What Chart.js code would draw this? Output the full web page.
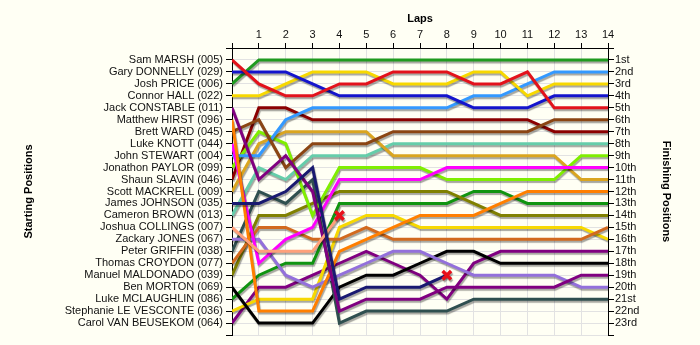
<!DOCTYPE html>
<html>
<head>
<meta charset="utf-8">
<title>Lap Chart</title>
<script src="https://cdn.jsdelivr.net/npm/chart.js@4/dist/chart.umd.min.js"></script>
<style>
    body { margin: 0; background: #fffff4; }
    #wrap { width: 700px; height: 345px; position: relative; }
</style>
</head>
<body>
<div id="wrap"><canvas id="lapChart"></canvas></div>
<script>
// ===================================
// RACE DATA
// ===================================

const laps = [0, 1, 2, 3, 4, 5, 6, 7, 8, 9, 10, 11, 12, 13, 14];

// grid order (starting position = index + 1)
const riderNames = [
    'Sam MARSH (005)', 'Gary DONNELLY (029)', 'Josh PRICE (006)', 'Connor HALL (022)',
    'Jack CONSTABLE (011)', 'Matthew HIRST (096)', 'Brett WARD (045)', 'Luke KNOTT (044)',
    'John STEWART (004)', 'Jonathon PAYLOR (099)', 'Shaun SLAVIN (046)', 'Scott MACKRELL (009)',
    'James JOHNSON (035)', 'Cameron BROWN (013)', 'Joshua COLLINGS (007)', 'Zackary JONES (067)',
    'Peter GRIFFIN (038)', 'Thomas CROYDON (077)', 'Manuel MALDONADO (039)', 'Ben MORTON (069)',
    'Luke MCLAUGHLIN (086)', 'Stephanie LE VESCONTE (036)', 'Carol VAN BEUSEKOM (064)'
];

const finishLabels = [
    '1st', '2nd', '3rd', '4th', '5th', '6th', '7th', '8th', '9th', '10th', '11th', '12th',
    '13th', '14th', '15th', '16th', '17th', '18th', '19th', '20th', '21st', '22nd', '23rd'
];

// position at the end of each lap (lap 0 = grid)
const samMarsh       = [1, 3, 4, 4, 3, 3, 2, 2, 2, 3, 3, 2, 5, 5, 5];
const garyDonnelly   = [2, 2, 2, 3, 4, 4, 4, 4, 4, 5, 5, 5, 4, 4, 4];
const joshPrice      = [3, 1, 1, 1, 1, 1, 1, 1, 1, 1, 1, 1, 1, 1, 1];
const connorHall     = [4, 4, 3, 2, 2, 2, 3, 3, 3, 2, 2, 4, 3, 3, 3];
const jackConstable  = [5, 11, 9, 12, 22, 21, 21, 21, 20, 20, 20, 20, 20, 19, 19];
const matthewHirst   = [6, 22, 22, 22, 17, 16, 15, 14, 14, 14, 13, 12, 12, 12, 12];
const brettWard      = [7, 6, 10, 8, 8, 8, 7, 7, 7, 7, 7, 7, 6, 6, 6];
const lukeKnott      = [8, 18, 16, 15, 11, 11, 11, 11, 10, 10, 10, 10, 10, 10, 10];
const johnStewart    = [9, 9, 6, 5, 5, 5, 5, 5, 5, 4, 4, 3, 2, 2, 2];
const jonathonPaylor = [10, 7, 8, 14, 10, 10, 10, 10, 11, 11, 11, 11, 11, 9, 9];
const shaunSlavin    = [11, 5, 5, 6, 6, 6, 6, 6, 6, 6, 6, 6, 7, 7, 7];
const scottMackrell  = [12, 8, 7, 7, 7, 7, 9, 9, 9, 9, 9, 9, 9, 11, 11];
const jamesJohnson   = [13, 13, 12, 10, 21, 20, 20, 20, 19];
const cameronBrown   = [14, 10, 11, 9, 9, 9, 8, 8, 8, 8, 8, 8, 8, 8, 8];
const joshuaCollings = [15, 17, 17, 17, 14];
const zackaryJones   = [16, 16, 19, 20, 19, 18, 17, 17, 18, 19, 19, 19, 19, 20, 20];
const peterGriffin   = [17, 12, 13, 11, 23, 22, 22, 22, 22, 21, 21, 21, 21, 21, 21];
const thomasCroydon  = [18, 15, 15, 16, 16, 15, 16, 16, 16, 16, 16, 16, 16, 16, 15];
const manuelMaldonado = [19, 14, 14, 13, 12, 12, 12, 12, 12, 13, 14, 14, 14, 14, 14];
const benMorton      = [20, 23, 23, 23, 20, 19, 19, 18, 17, 17, 18, 18, 18, 18, 18];
const lukeMclaughlin = [21, 19, 18, 18, 13, 13, 13, 13, 13, 12, 12, 13, 13, 13, 13];
const stephanieLeVesconte = [22, 21, 21, 21, 15, 14, 14, 15, 15, 15, 15, 15, 15, 15, 16];
const carolVanBeusekom = [23, 20, 20, 19, 18, 17, 18, 19, 21, 18, 17, 17, 17, 17, 17];

const riderLaps = [
    samMarsh, garyDonnelly, joshPrice, connorHall, jackConstable, matthewHirst,
    brettWard, lukeKnott, johnStewart, jonathonPaylor, shaunSlavin, scottMackrell,
    jamesJohnson, cameronBrown, joshuaCollings, zackaryJones, peterGriffin,
    thomasCroydon, manuelMaldonado, benMorton, lukeMclaughlin, stephanieLeVesconte,
    carolVanBeusekom
];

// riders who went down (last lap entry gets a cross)
const crashed = ['James JOHNSON (035)', 'Joshua COLLINGS (007)'];

const riderColors = [
    '#e3121b', '#1414cc', '#1f9a1f', '#f7d800', '#800080', '#ff7f00',
    '#8b4513', '#ff00ff', '#3399ff', '#7fee00', '#8b0000', '#daa520',
    '#191970', '#66cdaa', '#ffa07a', '#9370db', '#2f4f4f',
    '#d2691e', '#808000', '#000000', '#109410', '#f7d800',
    '#800080'
];

// ===================================
// CHART
// ===================================

const FONT = 'Liberation Sans, Arial, sans-serif';
const GRID = '#e2e2e2';

// soft grey drop shadow under every line
const lineShadow = {
    id: 'lineShadow',
    beforeDatasetsDraw(chart) {
        const c = chart.ctx;
        c.save();
        c.shadowColor = 'rgba(0, 0, 0, 0.35)';
        c.shadowOffsetX = 1;
        c.shadowOffsetY = 2;
        c.shadowBlur = 1;
    },
    afterDatasetsDraw(chart) {
        chart.ctx.restore();
    }
};

function buildDatasets() {
    return riderLaps.map((positions, i) => {
        const down = crashed.includes(riderNames[i]);
        const last = positions.length - 1;
        return {
            label: riderNames[i],
            data: positions.map((pos, lap) => ({ x: laps[lap], y: pos })),
            borderColor: riderColors[i],
            backgroundColor: riderColors[i],
            borderWidth: 3,
            tension: 0,
            fill: false,
            order: down ? -1 : 0,
            pointStyle: 'crossRot',
            pointRadius: positions.map((p, k) => (down && k === last ? 6 : 0)),
            pointBorderColor: '#e8101a',
            pointBorderWidth: 3.5,
            pointHoverRadius: 0
        };
    });
}

function positionAxis(side, labels, title, titleGap, width) {
    return {
        type: 'linear',
        position: side,
        reverse: true,
        min: 0,
        max: 24,
        afterFit: (scale) => { scale.width = width; },
        ticks: {
            stepSize: 1,
            autoSkip: false,
            padding: side === 'left' ? 3 : 1,
            color: '#111',
            font: { family: FONT, size: 11 },
            callback: (v) => labels[v - 1] || ''
        },
        grid: {
            color: GRID,
            tickColor: '#000',
            tickLength: 6,
            drawOnChartArea: side === 'left'
        },
        border: { color: '#000', width: 1 },
        title: {
            display: true,
            text: title,
            color: '#000',
            font: { family: FONT, size: 11, weight: 'bold' },
            padding: { top: titleGap, bottom: 0 }
        }
    };
}

function initLapChart() {
    const ctx = document.getElementById('lapChart').getContext('2d');

    new Chart(ctx, {
        type: 'line',
        data: { datasets: buildDatasets() },
        plugins: [lineShadow],
        options: {
            responsive: true,
            maintainAspectRatio: false,
            animation: false,
            devicePixelRatio: 1,
            layout: { padding: { left: 0, right: 0, top: 0, bottom: 10 } },
            plugins: {
                legend: { display: false },
                tooltip: { enabled: false }
            },
            scales: {
                x: {
                    type: 'linear',
                    position: 'top',
                    min: 0,
                    max: 14,
                    afterFit: (scale) => { scale.height = 48; },
                    ticks: {
                        stepSize: 1,
                        autoSkip: false,
                        maxRotation: 0,
                        padding: 1,
                        color: '#111',
                        font: { family: FONT, size: 11 },
                        callback: (v) => (v === 0 ? '' : v)
                    },
                    grid: { color: GRID, tickColor: '#000', tickLength: 5 },
                    border: { color: '#000', width: 1 },
                    title: {
                        display: true,
                        text: 'Laps',
                        color: '#000',
                        font: { family: FONT, size: 11, weight: 'bold' },
                        padding: { top: 12, bottom: 0 }
                    }
                },
                y: positionAxis('left', riderNames, 'Starting Positions', 22, 232),
                y2: positionAxis('right', finishLabels, 'Finishing Positions', 27, 92)
            }
        }
    });
}

window.addEventListener('DOMContentLoaded', initLapChart);
</script>
</body>
</html>
